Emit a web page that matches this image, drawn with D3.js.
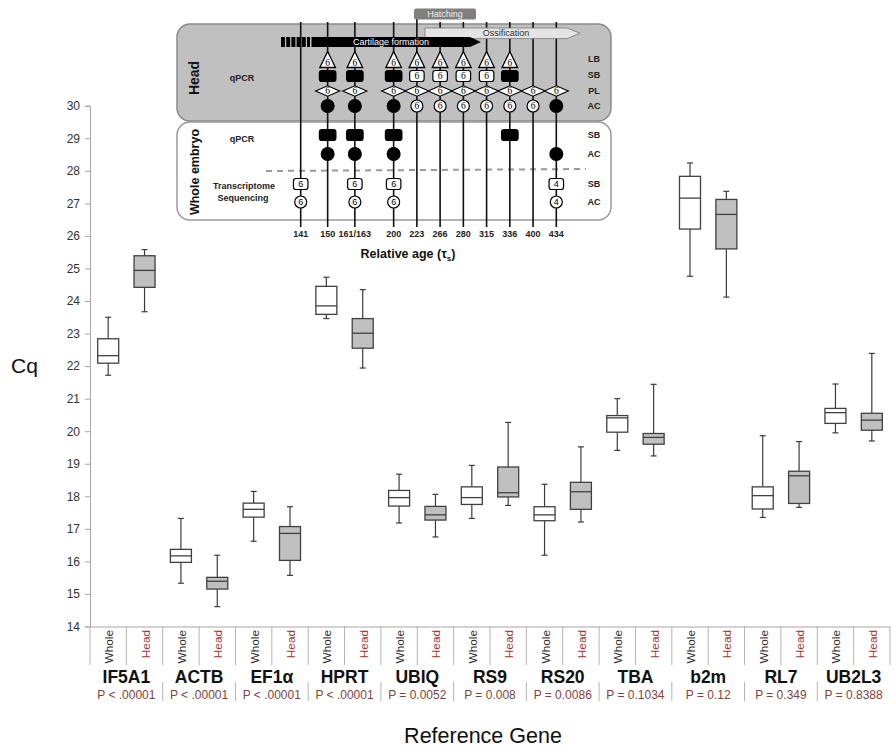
<!DOCTYPE html>
<html>
<head>
<meta charset="utf-8">
<script src="https://cdn.jsdelivr.net/npm/d3@7"></script>
<style>
  body { margin: 0; background: #fff; }
  svg { display: block; font-family: "Liberation Sans", Arial, sans-serif; }
</style>
</head>
<body>
<svg id="chart" width="895" height="750"></svg>
<script>
// ---- Reference gene Cq values: [min, Q1, median, Q3, max] per gene ----
const genes = ["IF5A1", "ACTB", "EF1α", "HPRT", "UBIQ", "RS9", "RS20", "TBA", "b2m", "RL7", "UB2L3"];
const pValues = ["P < .00001", "P < .00001", "P < .00001", "P < .00001", "P = 0.0052", "P = 0.008",
                 "P = 0.0086", "P = 0.1034", "P = 0.12", "P = 0.349", "P = 0.8388"];
const tissues = ["Whole", "Head"];
const wholeStats = [
  [21.72, 22.09, 22.32, 22.84, 23.50],
  [15.33, 15.97, 16.17, 16.37, 17.32],
  [16.62, 17.36, 17.60, 17.79, 18.15],
  [23.46, 23.59, 23.85, 24.45, 24.73],
  [17.18, 17.70, 17.96, 18.18, 18.68],
  [17.32, 17.75, 17.96, 18.29, 18.95],
  [16.19, 17.25, 17.43, 17.68, 18.37],
  [19.41, 19.97, 20.41, 20.48, 21.00],
  [24.76, 26.21, 27.16, 27.83, 28.24],
  [17.35, 17.61, 18.02, 18.29, 19.86],
  [19.95, 20.24, 20.57, 20.70, 21.45]
];
const headStats = [
  [23.67, 24.42, 24.94, 25.39, 25.58],
  [14.61, 15.15, 15.39, 15.51, 16.19],
  [15.57, 16.03, 16.86, 17.07, 17.68],
  [21.94, 22.55, 23.01, 23.46, 24.35],
  [16.75, 17.27, 17.43, 17.69, 18.06],
  [17.72, 17.98, 18.11, 18.90, 20.27],
  [17.21, 17.60, 18.14, 18.43, 19.52],
  [19.24, 19.60, 19.81, 19.93, 21.44],
  [24.12, 25.60, 26.66, 27.12, 27.37],
  [17.66, 17.78, 18.63, 18.77, 19.68],
  [19.70, 20.03, 20.34, 20.55, 22.39]
];
const yTicks = [14, 15, 16, 17, 18, 19, 20, 21, 22, 23, 24, 25, 26, 27, 28, 29, 30];

// ---- Sampling scheme: relative ages and sample counts (F = pooled / filled) ----
const ages = ["141", "150", "161/163", "200", "223", "266", "280", "315", "336", "400", "434"];
const headLB = [null, 6, 6, 6, 6, 6, 6, 6, 6, null, null];
const headSB = [null, "F", "F", "F", 6, 6, 6, 6, "F", null, null];
const headPL = [null, 6, 6, 6, 6, 6, 6, 6, 6, 6, 6];
const headAC = [null, "F", "F", "F", 6, 6, 6, 6, 6, 6, "F"];
const wholeQpcrSB = [null, "F", "F", "F", null, null, null, null, "F", null, null];
const wholeQpcrAC = [null, "F", "F", "F", null, null, null, null, null, null, "F"];
const wholeSeqSB = [6, null, 6, 6, null, null, null, null, null, null, 4];
const wholeSeqAC = [6, null, 6, 6, null, null, null, null, null, null, 4];

const svg = d3.select("#chart");
const FONT = '"Liberation Sans", Arial, sans-serif';

// ================= Box plot =================
const plot = { left: 90, right: 890, top: 105.7, bottom: 626.5 };
const y = d3.scaleLinear().domain([14, 30]).range([plot.bottom, plot.top]);
const slots = genes.flatMap(g => tissues.map(t => g + "|" + t));
const x = d3.scaleBand().domain(slots).range([plot.left, plot.right]);
const geneX = d3.scaleBand().domain(genes).range([plot.left, plot.right]);

// y axis
const yAxis = svg.append("g")
  .attr("transform", `translate(${plot.left},0)`)
  .call(d3.axisLeft(y).tickValues(yTicks).tickSize(5).tickPadding(5).tickFormat(d3.format("d")));
yAxis.select(".domain").attr("stroke", "#a6a6a6");
yAxis.selectAll(".tick line").attr("stroke", "#a6a6a6");
yAxis.selectAll(".tick text").attr("fill", "#333").attr("font-size", 12).attr("font-family", FONT);

// x axis line + category separators
svg.append("line")
  .attr("x1", plot.left).attr("x2", plot.right)
  .attr("y1", plot.bottom + 0.5).attr("y2", plot.bottom + 0.5)
  .attr("stroke", "#a6a6a6");
const boundaries = d3.range(slots.length + 1).map(i => plot.left + i * x.bandwidth());
svg.append("g").selectAll("line").data(boundaries).join("line")
  .attr("x1", d => d).attr("x2", d => d)
  .attr("y1", plot.bottom).attr("y2", 665)
  .attr("stroke", "#b4b4b4");
svg.append("g").selectAll("line").data(d3.range(1, genes.length).map(i => plot.left + i * geneX.bandwidth())).join("line")
  .attr("x1", d => d).attr("x2", d => d)
  .attr("y1", 682).attr("y2", 701)
  .attr("stroke", "#b4b4b4");

// tissue labels
svg.append("g").selectAll("text").data(slots).join("text")
  .attr("transform", d => `translate(${x(d) + x.bandwidth() / 2 + 1},630) rotate(-90)`)
  .attr("text-anchor", "end")
  .attr("dominant-baseline", "central")
  .attr("font-size", 11.8)
  .attr("fill", d => d.endsWith("Head") ? "#9c3a30" : "#2a2a2a")
  .text(d => d.split("|")[1]);

// gene names and p-values
svg.append("g").selectAll("text").data(genes).join("text")
  .attr("x", d => geneX(d) + geneX.bandwidth() / 2)
  .attr("y", 683)
  .attr("text-anchor", "middle")
  .attr("font-size", 17.5).attr("font-weight", "bold").attr("fill", "#111")
  .text(d => d);
svg.append("g").selectAll("text").data(genes).join("text")
  .attr("x", d => geneX(d) + geneX.bandwidth() / 2)
  .attr("y", 698.5)
  .attr("text-anchor", "middle")
  .attr("font-size", 12).attr("fill", "#84423a")
  .text((d, i) => pValues[i]);

// axis titles
svg.append("text").attr("x", 11).attr("y", 373)
  .attr("font-size", 21).attr("fill", "#111").text("Cq");
svg.append("text").attr("x", 483).attr("y", 743).attr("text-anchor", "middle")
  .attr("font-size", 21.5).attr("fill", "#111").text("Reference Gene");

// boxes
const boxes = genes.flatMap((g, i) => [
  { key: g + "|Whole", s: wholeStats[i], fill: "#ffffff" },
  { key: g + "|Head", s: headStats[i], fill: "#c0c0c0" }
]);
const boxW = 21, capW = 6;
const bg = svg.append("g").selectAll("g").data(boxes).join("g")
  .attr("transform", d => `translate(${x(d.key) + x.bandwidth() / 2},0)`);
bg.append("line").attr("y1", d => y(d.s[0])).attr("y2", d => y(d.s[1]))
  .attr("stroke", "#3c3c3c").attr("stroke-width", 1.2);
bg.append("line").attr("y1", d => y(d.s[3])).attr("y2", d => y(d.s[4]))
  .attr("stroke", "#3c3c3c").attr("stroke-width", 1.2);
bg.append("line").attr("x1", -capW / 2).attr("x2", capW / 2)
  .attr("y1", d => y(d.s[0])).attr("y2", d => y(d.s[0]))
  .attr("stroke", "#3c3c3c").attr("stroke-width", 1.2);
bg.append("line").attr("x1", -capW / 2).attr("x2", capW / 2)
  .attr("y1", d => y(d.s[4])).attr("y2", d => y(d.s[4]))
  .attr("stroke", "#3c3c3c").attr("stroke-width", 1.2);
bg.append("rect")
  .attr("x", -boxW / 2).attr("width", boxW)
  .attr("y", d => y(d.s[3])).attr("height", d => y(d.s[1]) - y(d.s[3]))
  .attr("fill", d => d.fill).attr("stroke", "#404040").attr("stroke-width", 1.3);
bg.append("line").attr("x1", -boxW / 2).attr("x2", boxW / 2)
  .attr("y1", d => y(d.s[2])).attr("y2", d => y(d.s[2]))
  .attr("stroke", "#404040").attr("stroke-width", 1.3);

// ================= Sampling scheme inset =================
const inset = svg.append("g");
const columnSlots = [0, 1.16, 2.33, 4, 5, 6, 7, 8, 9, 10, 11];
const col = d3.scaleLinear().domain([0, 11]).range([300.7, 556.3]);
const cx = i => col(columnSlots[i]);

// panels
inset.append("rect").attr("x", 177).attr("y", 24).attr("width", 434).attr("height", 97)
  .attr("rx", 13).attr("fill", "#c0c0c0").attr("stroke", "#8a8a8a").attr("stroke-width", 1.5);
inset.append("rect").attr("x", 177).attr("y", 122).attr("width", 434).attr("height", 98)
  .attr("rx", 13).attr("fill", "#fff").attr("stroke", "#9a9a9a").attr("stroke-width", 1.5);

// panel titles
inset.append("text").attr("transform", "translate(194,78) rotate(-90)")
  .attr("text-anchor", "middle").attr("dominant-baseline", "central")
  .attr("font-size", 14).attr("font-weight", "bold").attr("fill", "#111").text("Head");
inset.append("text").attr("transform", "translate(195,172) rotate(-90)")
  .attr("text-anchor", "middle").attr("dominant-baseline", "central")
  .attr("font-size", 12.5).attr("font-weight", "bold").attr("fill", "#111").text("Whole embryo");
const smallBold = (tx, ty, t) => inset.append("text").attr("x", tx).attr("y", ty)
  .attr("text-anchor", "middle").attr("dominant-baseline", "central")
  .attr("font-size", 9).attr("font-weight", "bold").attr("fill", "#222").text(t);
smallBold(242, 78, "qPCR");
smallBold(242, 139, "qPCR");
smallBold(244, 186, "Transcriptome");
smallBold(243, 198, "Sequencing");

// dashed separator in whole-embryo panel
inset.append("line").attr("x1", 266).attr("x2", 586).attr("y1", 171).attr("y2", 169)
  .attr("stroke", "#9a9a9a").attr("stroke-width", 2).attr("stroke-dasharray", "6,5");

// time-point lines
inset.append("g").selectAll("line").data(ages).join("line")
  .attr("x1", (d, i) => cx(i)).attr("x2", (d, i) => cx(i))
  .attr("y1", (d, i) => i === 4 ? 19 : 22).attr("y2", 227)
  .attr("stroke", "#111").attr("stroke-width", 1.6);
inset.append("g").selectAll("text").data(ages).join("text")
  .attr("x", (d, i) => cx(i)).attr("y", 234)
  .attr("text-anchor", "middle").attr("dominant-baseline", "central")
  .attr("font-size", 9).attr("font-weight", "bold").attr("fill", "#222")
  .text(d => d);
const relAge = inset.append("text").attr("x", 408).attr("y", 258)
  .attr("text-anchor", "middle").attr("font-size", 12.5).attr("font-weight", "bold").attr("fill", "#111");
relAge.append("tspan").text("Relative age (τ");
relAge.append("tspan").attr("font-size", 8).attr("dy", 3).text("s");
relAge.append("tspan").attr("dy", -3).text(")");

// hatching marker
inset.append("rect").attr("x", 414).attr("y", 8.5).attr("width", 62).attr("height", 11)
  .attr("rx", 2).attr("fill", "#7f7f7f");
inset.append("text").attr("x", 445).attr("y", 14).attr("text-anchor", "middle")
  .attr("dominant-baseline", "central").attr("font-size", 9).attr("fill", "#eee").text("Hatching");

// ossification arrow
inset.append("path")
  .attr("d", "M425,28 L567,28 L580,33.3 L567,38.6 L425,38.6 Z")
  .attr("fill", "#e4e4e4").attr("stroke", "#7a7a7a").attr("stroke-width", 0.8);
inset.append("text").attr("x", 506).attr("y", 33.3).attr("text-anchor", "middle")
  .attr("dominant-baseline", "central").attr("font-size", 9).attr("fill", "#333").text("Ossification");

// cartilage formation arrow
inset.append("line").attr("x1", 281).attr("x2", 310).attr("y1", 42).attr("y2", 42)
  .attr("stroke", "#000").attr("stroke-width", 10).attr("stroke-dasharray", "4,1.2");
inset.append("path")
  .attr("d", "M311.5,37 L470,37 L481,42 L470,47 L311.5,47 Z")
  .attr("fill", "#000");
inset.append("text").attr("x", 391).attr("y", 42).attr("text-anchor", "middle")
  .attr("dominant-baseline", "central").attr("font-size", 9).attr("fill", "#fff").text("Cartilage formation");

// row labels on the right
const rowLabels = [
  ["LB", 59], ["SB", 75], ["PL", 90.5], ["AC", 105.5],
  ["SB", 135], ["AC", 153.5], ["SB", 183.5], ["AC", 201.5]
];
inset.append("g").selectAll("text").data(rowLabels).join("text")
  .attr("x", 594).attr("y", d => d[1]).attr("text-anchor", "middle")
  .attr("dominant-baseline", "central")
  .attr("font-size", 9).attr("font-weight", "bold").attr("fill", "#222").text(d => d[0]);

// sample symbols
function numberLabel(g, tx, ty, v, serif) {
  g.append("text").attr("x", tx).attr("y", ty).attr("text-anchor", "middle")
    .attr("dominant-baseline", "central")
    .attr("font-size", serif ? 9.5 : 9)
    .attr("font-family", serif ? '"Liberation Serif", "Times New Roman", serif' : FONT)
    .attr("fill", "#000").text(v);
}
function drawRow(values, rowY, shape, serif) {
  const g = inset.append("g");
  values.forEach((v, i) => {
    if (v === null) return;
    const px = cx(i);
    const filled = v === "F";
    if (shape === "tri") {
      g.append("path").attr("d", `M${px},${rowY - 8.5} L${px + 7.8},${rowY + 7.5} L${px - 7.8},${rowY + 7.5} Z`)
        .attr("fill", "#fff").attr("stroke", "#000").attr("stroke-width", 1.3);
      numberLabel(g, px, rowY + 2.5, v, serif);
    } else if (shape === "box") {
      const w = filled ? 16.5 : 14.5, h = 11;
      g.append("rect").attr("x", px - w / 2).attr("y", rowY - h / 2).attr("width", w).attr("height", h)
        .attr("rx", 2.5).attr("fill", filled ? "#000" : "#fff")
        .attr("stroke", "#000").attr("stroke-width", 1.2);
      if (!filled) numberLabel(g, px, rowY, v, serif);
    } else if (shape === "diamond") {
      g.append("path").attr("d", `M${px - 12},${rowY} L${px},${rowY - 5.2} L${px + 12},${rowY} L${px},${rowY + 5.2} Z`)
        .attr("fill", "#fff").attr("stroke", "#000").attr("stroke-width", 1.2);
      numberLabel(g, px, rowY, v, serif);
    } else if (shape === "circle") {
      g.append("circle").attr("cx", px).attr("cy", rowY).attr("r", filled ? 6.4 : 6)
        .attr("fill", filled ? "#000" : "#fff").attr("stroke", "#000").attr("stroke-width", 1.2);
      if (!filled) numberLabel(g, px, rowY, v, serif);
    }
  });
}
drawRow(headLB, 60, "tri", true);
drawRow(headSB, 76, "box", true);
drawRow(headPL, 91, "diamond", true);
drawRow(headAC, 106, "circle", true);
drawRow(wholeQpcrSB, 135, "box", false);
drawRow(wholeQpcrAC, 154, "circle", false);
drawRow(wholeSeqSB, 184, "box", false);
drawRow(wholeSeqAC, 202, "circle", false);
</script>
</body>
</html>
